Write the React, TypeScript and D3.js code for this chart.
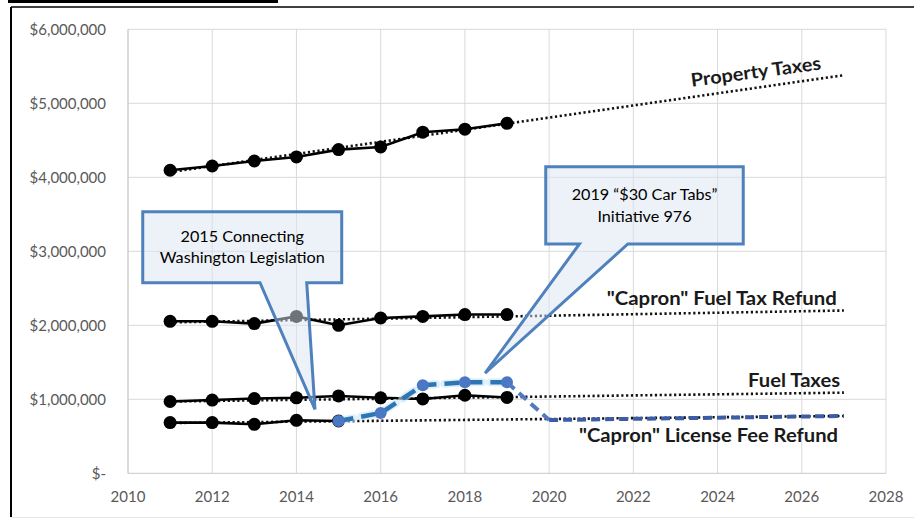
import React from "react";
import * as d3 from "d3";

// ---------- data ----------
const years = [2011, 2012, 2013, 2014, 2015, 2016, 2017, 2018, 2019];
const propertyTaxes = [4095000, 4153000, 4220000, 4275000, 4374000, 4410000, 4610000, 4650000, 4730000];
const fuelTaxRefund = [2054000, 2054000, 2023000, 2120000, 2000000, 2099000, 2120000, 2145000, 2145000];
const fuelTaxes = [970000, 990000, 1010000, 1020000, 1045000, 1020000, 1005000, 1055000, 1025000];
const licenseYears = [2011, 2012, 2013, 2014, 2015];
const licenseFeeRefund = [685000, 685000, 662000, 716000, 707000];
const i976Years = [2015, 2016, 2017, 2018, 2019, 2020, 2027];
const i976Values = [707000, 815000, 1190000, 1230000, 1230000, 720000, 775000];

const trendYears = [2011, 2027];
const propertyTrend = [4070000, 5380000];
const fuelTaxRefundTrend = [2040000, 2200000];
const fuelTaxesTrend = [970000, 1090000];
const licenseTrend = [680000, 775000];

const xTicks = [2010, 2012, 2014, 2016, 2018, 2020, 2022, 2024, 2026, 2028];
const xTickLabels = ["2010", "2012", "2014", "2016", "2018", "2020", "2022", "2024", "2026", "2028"];
const yTicks = [0, 1000000, 2000000, 3000000, 4000000, 5000000, 6000000];
const yTickLabels = ["$-", "$1,000,000", "$2,000,000", "$3,000,000", "$4,000,000", "$5,000,000", "$6,000,000"];

const seriesLabels = ['"Capron" Fuel Tax Refund', "Fuel Taxes", '"Capron" License Fee Refund', "Property Taxes"];
const callout1Lines = ["2015 Connecting", "Washington Legislation"];
const callout2Lines = ["2019 \u201C$30 Car Tabs\u201D", "Initiative 976"];

const W = 914;
const H = 519;
const FONT = "Lato, 'Open Sans', sans-serif";

export default function App() {
  const x = d3.scaleLinear().domain([2010, 2028]).range([128, 886]);
  const y = d3.scaleLinear().domain([0, 6000000]).range([473.3, 29.3]);

  const line = d3
    .line<[number, number]>()
    .x((d) => x(d[0]))
    .y((d) => y(d[1]));

  const zip = (xs: number[], vs: number[]) => xs.map((v, i) => [v, vs[i]] as [number, number]);

  const solidSeries = [
    zip(years, propertyTaxes),
    zip(years, fuelTaxRefund),
    zip(years, fuelTaxes),
    zip(licenseYears, licenseFeeRefund),
  ];
  const trends = [propertyTrend, fuelTaxRefundTrend, fuelTaxesTrend, licenseTrend].map((t) => zip(trendYears, t));

  const i976 = zip(i976Years, i976Values);
  const segA = i976.filter((d) => d[0] <= 2019);
  const segB = i976.filter((d) => d[0] >= 2019 && d[0] <= 2020);
  const segC = i976.filter((d) => d[0] >= 2020);

  const callout = (
    bx0: number, bx1: number, v0: number, v1: number,
    t0: number, t1: number, tipX: number, tipV: number
  ) => {
    const X0 = x(bx0), X1 = x(bx1), Y0 = y(v0), Y1 = y(v1);
    return `M${X0},${Y0}H${X1}V${Y1}H${x(t1)}L${x(tipX)},${y(tipV)}L${x(t0)},${Y1}H${X0}Z`;
  };

  const c1 = callout(2010.35, 2015.075, 3535000, 2576000, 2013.135, 2014.244, 2014.44, 865000);
  const c2 = callout(2019.92, 2024.61, 4143000, 3099000, 2020.72, 2021.87, 2018.48, 1355000);

  return (
    <svg width={W} height={H} style={{ position: "absolute", left: 0, top: 0, background: "#fff" }}>
      {/* header remnants & frame */}
      <line x1={8} x2={278} y1={1.5} y2={1.5} stroke="#000" strokeWidth={3} />
      <line x1={11} x2={914} y1={7} y2={7} stroke="#000" strokeWidth={1.5} />
      <line x1={11} x2={11} y1={7} y2={517} stroke="#000" strokeWidth={2} />
      <line x1={11} x2={914} y1={517.5} y2={517.5} stroke="#e6e6e6" strokeWidth={1} />

      {/* grid */}
      {xTicks.map((t) => (
        <line key={"gx" + t} x1={x(t)} x2={x(t)} y1={y(0)} y2={y(6000000)} stroke="#d9d9d9" strokeWidth={1} />
      ))}
      {yTicks.map((t) => (
        <line key={"gy" + t} x1={x(2010)} x2={x(2028)} y1={y(t)} y2={y(t)} stroke={t === 0 ? "#c8c8c8" : "#d9d9d9"} strokeWidth={1} />
      ))}
      <line x1={x(2010)} x2={x(2010)} y1={y(0)} y2={y(6000000)} stroke="#c8c8c8" strokeWidth={1} />

      {/* tick labels */}
      {yTicks.map((t, i) => (
        <text key={"yl" + t} x={106} y={y(t)} dy="0.35em" textAnchor="end" fontFamily={FONT} fontSize={15} fill="#595959">
          {yTickLabels[i]}
        </text>
      ))}
      {xTicks.map((t, i) => (
        <text key={"xl" + t} x={x(t)} y={502} textAnchor="middle" fontFamily={FONT} fontSize={15} fill="#595959">
          {xTickLabels[i]}
        </text>
      ))}

      {/* trend lines */}
      {trends.map((t, i) => (
        <path key={"tr" + i} d={line(t) || ""} fill="none" stroke="#111" strokeWidth={2.6} strokeDasharray="2.2 2.6" />
      ))}

      {/* solid series */}
      {solidSeries.map((s, i) => (
        <g key={"s" + i}>
          <path d={line(s) || ""} fill="none" stroke="#000" strokeWidth={2.6} />
          {s.map((d, j) => (
            <circle key={j} cx={x(d[0])} cy={y(d[1])} r={6.5} fill="#000" />
          ))}
        </g>
      ))}

      {/* I-976 dashed series */}
      <path d={line(segA) || ""} fill="none" stroke="#c6e6f8" strokeWidth={8} strokeDasharray="15 8" strokeLinecap="round" opacity={0.6} />
      <path d={line(segA) || ""} fill="none" stroke="#2e75b6" strokeWidth={4.5} strokeDasharray="15 8" />
      {segA.map((d, j) => (
        <circle key={"b" + j} cx={x(d[0])} cy={y(d[1])} r={6} fill="#4a78c4" />
      ))}
      <path d={line(segB) || ""} fill="none" stroke="#5479c0" strokeWidth={4} strokeDasharray="10 6" />
      <path d={line(segC) || ""} fill="none" stroke="#3c5ca6" strokeWidth={4} strokeDasharray="9 5" />

      {/* series labels */}
      <text x={x(2026.83)} y={y(2268000)} textAnchor="end" fontFamily={FONT} fontWeight={700} fontSize={18.5} fill="#1a1a1a" textLength={230} lengthAdjust="spacingAndGlyphs">
        {seriesLabels[0]}
      </text>
      <text x={x(2026.91)} y={y(1166000)} textAnchor="end" fontFamily={FONT} fontWeight={700} fontSize={18.5} fill="#1a1a1a" textLength={92} lengthAdjust="spacingAndGlyphs">
        {seriesLabels[1]}
      </text>
      <text x={x(2026.86)} y={y(423000)} textAnchor="end" fontFamily={FONT} fontWeight={700} fontSize={18.5} fill="#1a1a1a" textLength={259} lengthAdjust="spacingAndGlyphs">
        {seriesLabels[2]}
      </text>
      <text
        x={x(2024.93)}
        y={y(5340000)}
        textAnchor="middle"
        fontFamily={FONT}
        fontWeight={700}
        fontSize={18.5}
        fill="#1a1a1a"
        textLength={131}
        lengthAdjust="spacingAndGlyphs"
        transform={`rotate(-7.6 ${x(2024.93)} ${y(5340000)})`}
      >
        {seriesLabels[3]}
      </text>

      {/* callouts */}
      <path d={c1} fill="#dce6f2" fillOpacity={0.5} stroke="#4f81bd" strokeWidth={3} strokeLinejoin="miter" />
      <path d={c2} fill="#dce6f2" fillOpacity={0.5} stroke="#4f81bd" strokeWidth={3} strokeLinejoin="miter" />
      {callout1Lines.map((t, i) => (
        <text key={"c1" + i} x={x((2010.35 + 2015.075) / 2)} y={y([3130000, 2838000][i])} textAnchor="middle" fontFamily={FONT} fontSize={16.2} fill="#000">
          {t}
        </text>
      ))}
      {callout2Lines.map((t, i) => (
        <text key={"c2" + i} x={x((2019.92 + 2024.61) / 2)} y={y([3693000, 3400000][i])} textAnchor="middle" fontFamily={FONT} fontSize={16.2} fill="#000">
          {t}
        </text>
      ))}
    </svg>
  );
}
